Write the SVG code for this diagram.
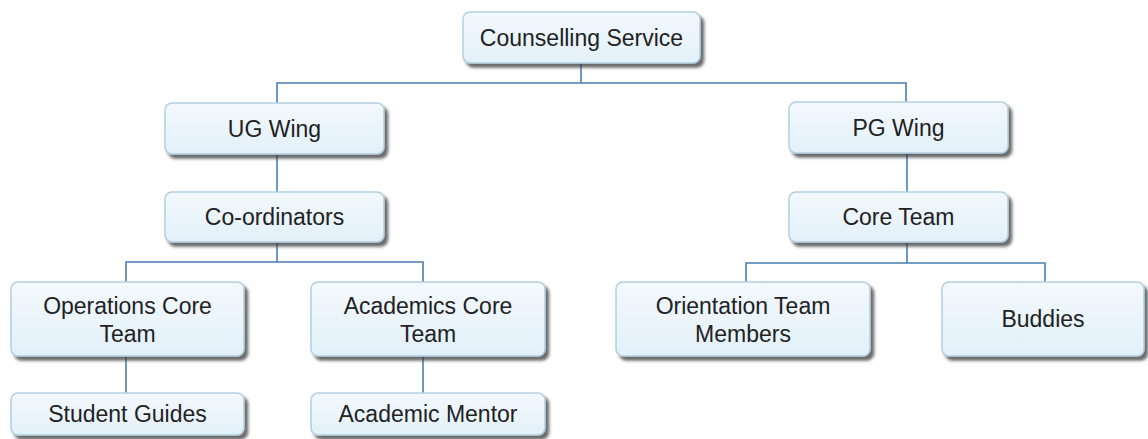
<svg xmlns="http://www.w3.org/2000/svg" width="1148" height="439" viewBox="0 0 1148 439">
<defs>
<linearGradient id="g" x1="0" y1="0" x2="0" y2="1">
<stop offset="0" stop-color="#f3f9fd"/>
<stop offset="1" stop-color="#e2f0f9"/>
</linearGradient>
<filter id="sh" x="-10%" y="-20%" width="130%" height="150%">
<feDropShadow dx="3.5" dy="4" stdDeviation="1.6" flood-color="#3a3a3a" flood-opacity="0.75"/>
</filter>
</defs>
<style>
.box{fill:url(#g);stroke:#b3cfe0;stroke-width:1.5;filter:url(#sh)}
.t{font-family:"Liberation Sans",Arial,sans-serif;font-size:23px;fill:#222;text-anchor:middle}
.c{fill:none;stroke:#4a7db3;stroke-width:1.6}
</style>
<rect width="1148" height="439" fill="#ffffff"/>
<g id="connectors">
<path class="c" d="M581 63 V83"/>
<path class="c" d="M277 103 V83 H906 V102"/>
<path class="c" d="M277 154 V192"/>
<path class="c" d="M907 153 V192"/>
<path class="c" d="M277 242 V262"/>
<path class="c" d="M126 282 V262 H423 V282"/>
<path class="c" d="M907 242 V263"/>
<path class="c" d="M746 282 V263 H1045 V282"/>
<path class="c" d="M126 356 V393"/>
<path class="c" d="M423 356 V393"/>
</g>
<g id="counselling">
<rect class="box" x="463" y="12" width="237" height="51" rx="7"/>
<text class="t" x="581.5" y="46">Counselling Service</text>
</g>
<g id="ug-wing">
<rect class="box" x="165" y="103" width="219" height="51" rx="7"/>
<text class="t" x="274.5" y="137">UG Wing</text>
</g>
<g id="coordinators">
<rect class="box" x="165" y="192" width="219" height="50" rx="7"/>
<text class="t" x="274.5" y="225">Co-ordinators</text>
</g>
<g id="pg-wing">
<rect class="box" x="789" y="102" width="219" height="51" rx="7"/>
<text class="t" x="898.5" y="136">PG Wing</text>
</g>
<g id="core-team">
<rect class="box" x="789" y="192" width="219" height="50" rx="7"/>
<text class="t" x="898.5" y="225">Core Team</text>
</g>
<g id="operations">
<rect class="box" x="11" y="282" width="233" height="74" rx="7"/>
<text class="t" x="127.5" y="314">Operations Core</text>
<text class="t" x="127.5" y="342">Team</text>
</g>
<g id="academics">
<rect class="box" x="311" y="282" width="234" height="74" rx="7"/>
<text class="t" x="428" y="314">Academics Core</text>
<text class="t" x="428" y="342">Team</text>
</g>
<g id="student-guides">
<rect class="box" x="11" y="393" width="233" height="42" rx="7"/>
<text class="t" x="127.5" y="422">Student Guides</text>
</g>
<g id="academic-mentor">
<rect class="box" x="311" y="393" width="234" height="42" rx="7"/>
<text class="t" x="428" y="422">Academic Mentor</text>
</g>
<g id="orientation">
<rect class="box" x="616" y="282" width="254" height="74" rx="7"/>
<text class="t" x="743" y="314">Orientation Team</text>
<text class="t" x="743" y="342">Members</text>
</g>
<g id="buddies">
<rect class="box" x="942" y="282" width="202" height="74" rx="7"/>
<text class="t" x="1043" y="327">Buddies</text>
</g>
</svg>
